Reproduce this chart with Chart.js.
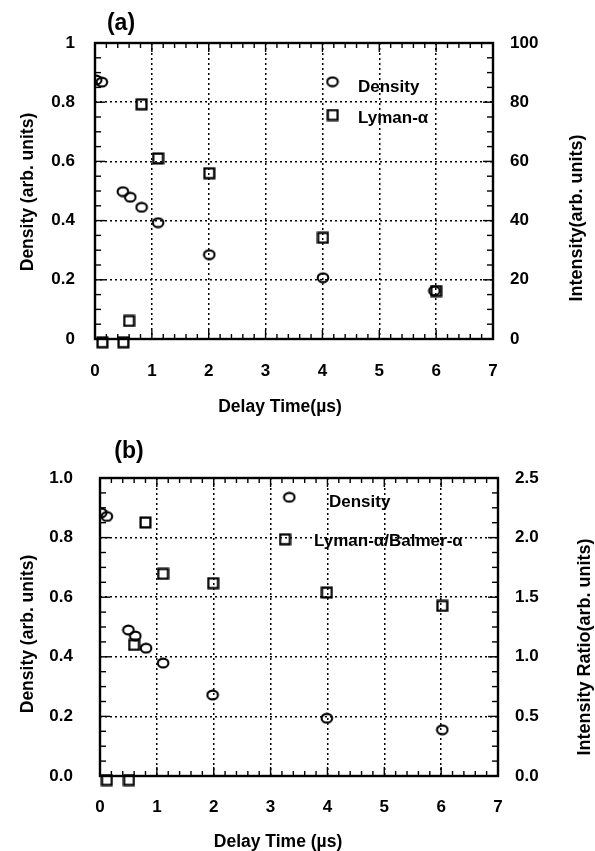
<!DOCTYPE html>
<html><head><meta charset="utf-8">
<script src="https://cdn.jsdelivr.net/npm/chart.js@4"></script>
<style>
html,body{margin:0;padding:0;background:#fff;width:595px;height:851px;overflow:hidden}
canvas{position:absolute;left:0}
#ca{top:0}
#cb{top:430px}
</style></head><body>
<canvas id="ca" width="595" height="430"></canvas>
<canvas id="cb" width="595" height="421"></canvas>
<script>
// ---------------- data ----------------
const xTickLabels = ['0','1','2','3','4','5','6','7'];

// panel (a)
const aDensityX = [0.02, 0.12, 0.49, 0.62, 0.82, 1.11, 2.01, 4.01, 5.97];
const aDensityY = [0.875, 0.868, 0.498, 0.479, 0.445, 0.393, 0.285, 0.207, 0.163];
const aLymanX   = [0.13, 0.50, 0.60, 0.82, 1.11, 2.01, 4.01, 6.00];
const aLymanY   = [-1.1, -1.1, 6.1, 79.3, 61.0, 56.0, 34.2, 16.2];
const aLeftTicks  = ['0','0.2','0.4','0.6','0.8','1'];
const aRightTicks = ['0','20','40','60','80','100'];

// panel (b)
const bDensityX = [0.02, 0.12, 0.50, 0.62, 0.81, 1.11, 1.98, 3.99, 6.02];
const bDensityY = [0.883, 0.871, 0.490, 0.470, 0.429, 0.379, 0.272, 0.194, 0.155];
const bRatioX   = [0.12, 0.51, 0.60, 0.80, 1.11, 1.99, 3.99, 6.02];
const bRatioY   = [-0.034, -0.034, 1.10, 2.127, 1.696, 1.618, 1.539, 1.427];
const bLeftTicks  = ['0.0','0.2','0.4','0.6','0.8','1.0'];
const bRightTicks = ['0.0','0.5','1.0','1.5','2.0','2.5'];

// ---------------- styling ----------------
const FONT = '"Liberation Sans", Arial, Helvetica, sans-serif';
Chart.defaults.font.family = FONT;
Chart.defaults.font.weight = 'bold';
Chart.defaults.font.size = 17;
Chart.defaults.color = '#000';

function makeEllipse(){
  const c = document.createElement('canvas'); c.width = 14; c.height = 12;
  const g = c.getContext('2d'); g.strokeStyle = '#000'; g.lineWidth = 2.1;
  g.beginPath(); g.ellipse(7, 6, 5.3, 4.4, 0, 0, Math.PI*2); g.stroke();
  return c;
}
function makeSquare(){
  const c = document.createElement('canvas'); c.width = 13; c.height = 13;
  const g = c.getContext('2d'); g.strokeStyle = '#000'; g.lineWidth = 2.3;
  g.strokeRect(1.6, 1.6, 9.8, 9.8);
  return c;
}
const ELL = makeEllipse(), SQR = makeSquare();

const deco = {
  id: 'deco',
  beforeDatasetsDraw(chart, args, o) {
    const {ctx, chartArea: a} = chart;
    const xs = chart.scales.x, ys = chart.scales.y;
    ctx.save();
    ctx.strokeStyle = '#000'; ctx.lineWidth = 1.4;
    const ln = (x1,y1,x2,y2)=>{ctx.beginPath();ctx.moveTo(x1,y1);ctx.lineTo(x2,y2);ctx.stroke();};
    const nx = Math.round(7 / o.xMinor);
    for (let i = 0; i <= nx; i++) {
      const v = i * o.xMinor;
      const px = xs.getPixelForValue(v);
      const L = (i % Math.round(1/o.xMinor) === 0) ? 9 : 5;
      ln(px, a.bottom, px, a.bottom - L);
      ln(px, a.top, px, a.top + L);
    }
    const ny = Math.round(1 / o.yMinor);
    for (let i = 0; i <= ny; i++) {
      const py = ys.getPixelForValue(i * o.yMinor);
      const L = (i % 4 === 0) ? 10 : 6;
      ln(a.left, py, a.left + L, py);
      ln(a.right, py, a.right - L, py);
    }
    ctx.lineWidth = 2.4;
    ctx.strokeRect(a.left, a.top, a.right - a.left, a.bottom - a.top);
    ctx.restore();
  },
  afterDraw(chart, args, o) {
    const ctx = chart.ctx;
    ctx.save();
    ctx.fillStyle = '#000';
    ctx.textBaseline = 'middle';
    for (const t of o.texts) {
      ctx.font = `bold ${t.size || 17.5}px ${FONT}`;
      ctx.textAlign = t.align || 'center';
      ctx.save();
      ctx.translate(t.x, t.y);
      if (t.rot) ctx.rotate(t.rot * Math.PI / 180);
      ctx.fillText(t.t, 0, 0);
      ctx.restore();
    }
    for (const l of o.legend) {
      ctx.drawImage(l.img, l.mx - l.img.width/2, l.my - l.img.height/2);
      ctx.font = `bold 17px ${FONT}`;
      ctx.textAlign = 'left';
      ctx.fillText(l.t, l.tx, l.ty);
    }
    ctx.restore();
  }
};

function pts(xs, ys){ return xs.map((x,i)=>({x, y: ys[i]})); }

function makeChart(id, p) {
  const clip = {left: 0, top: false, right: false, bottom: false};
  return new Chart(document.getElementById(id), {
    type: 'scatter',
    data: { datasets: [
      { label: 'Density', data: pts(p.dX, p.dY), yAxisID: 'y', pointStyle: ELL, pointRadius: 5, clip },
      { label: p.sLabel, data: pts(p.sX, p.sY), yAxisID: 'y1', pointStyle: SQR, pointRadius: 5, clip }
    ]},
    options: {
      responsive: false, animation: false, devicePixelRatio: 1,
      layout: { padding: { top: p.top, left: 0, right: 0, bottom: 0 } },
      plugins: { legend: {display: false}, tooltip: {enabled: false}, deco: p.deco },
      scales: {
        x: {
          type: 'linear', min: 0, max: 7,
          ticks: { stepSize: 1, padding: p.xPad, maxRotation: 0, autoSkip: false,
                   callback: (v, i) => xTickLabels[i] },
          grid: { color: '#000', lineWidth: 1.5, drawTicks: false },
          border: { display: false, dash: [2, 3] },
          afterFit: s => { s.height = p.xH; }
        },
        y: {
          type: 'linear', position: 'left', min: 0, max: 1,
          ticks: { stepSize: 0.2, padding: p.lPad, callback: (v, i) => p.lTicks[i] },
          grid: { color: '#000', lineWidth: 1.5, drawTicks: false },
          border: { display: false, dash: [2, 3] },
          afterFit: s => { s.width = p.lW; }
        },
        y1: {
          type: 'linear', position: 'right', min: 0, max: p.rMax,
          ticks: { stepSize: p.rMax / 5, padding: p.rPad, callback: (v, i) => p.rTicks[i] },
          grid: { drawOnChartArea: false, drawTicks: false },
          border: { display: false },
          afterFit: s => { s.width = p.rW; }
        }
      }
    },
    plugins: [deco]
  });
}

makeChart('ca', {
  dX: aDensityX, dY: aDensityY, sX: aLymanX, sY: aLymanY, sLabel: 'Lyman-α',
  lTicks: aLeftTicks, rTicks: aRightTicks, rMax: 100,
  top: 43, xH: 430 - 339, lW: 95, rW: 595 - 493,
  xPad: 22, lPad: 20, rPad: 17,
  deco: {
    xMinor: 0.2, yMinor: 0.05,
    texts: [
      { t: '(a)', x: 121, y: 24, size: 23 },
      { t: 'Density (arb. units)', x: 28, y: 192, rot: -90 },
      { t: 'Intensity(arb. units)', x: 577, y: 218, rot: -90, size: 18 },
      { t: 'Delay Time(µs)', x: 280, y: 407 }
    ],
    legend: [
      { img: ELL, mx: 332.5, my: 81.7, t: 'Density', tx: 358, ty: 87 },
      { img: SQR, mx: 332.7, my: 115, t: 'Lyman-α', tx: 358, ty: 118 }
    ]
  }
});

makeChart('cb', {
  dX: bDensityX, dY: bDensityY, sX: bRatioX, sY: bRatioY, sLabel: 'Lyman-α/Balmer-α',
  lTicks: bLeftTicks, rTicks: bRightTicks, rMax: 2.5,
  top: 48, xH: 421 - 346, lW: 100, rW: 595 - 498,
  xPad: 21, lPad: 27, rPad: 17,
  deco: {
    xMinor: 0.2, yMinor: 0.05,
    texts: [
      { t: '(b)', x: 129, y: 22, size: 23 },
      { t: 'Density (arb. units)', x: 28, y: 204, rot: -90 },
      { t: 'Intensity Ratio(arb. units)', x: 585, y: 217, rot: -90, size: 18 },
      { t: 'Delay Time (µs)', x: 278, y: 412 }
    ],
    legend: [
      { img: ELL, mx: 289.3, my: 67.3, t: 'Density', tx: 329, ty: 72 },
      { img: SQR, mx: 285, my: 109.3, t: 'Lyman-α/Balmer-α', tx: 314, ty: 111 }
    ]
  }
});
</script>
</body></html>
